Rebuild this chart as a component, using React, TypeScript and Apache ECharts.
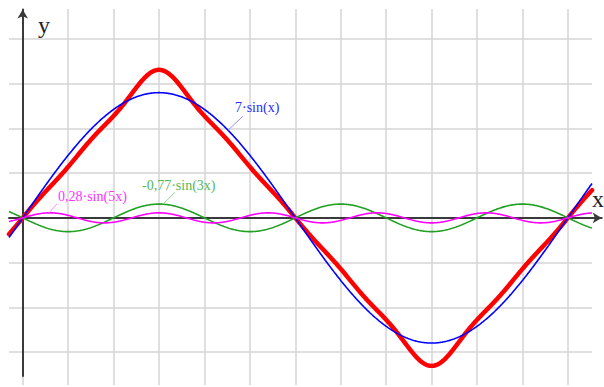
import React, { useEffect, useRef } from "react";
import * as echarts from "echarts";

// Fourier components of a triangle wave: odd harmonics with amplitudes 7/n², alternating sign.
const HARMONICS = [1, 3, 5, 7, 9];
const AMPLITUDES = [7, -0.77, 0.28, -0.14, 0.086];
// only the first three components are drawn separately; the partial sum uses all of them
const TERM_LABELS = ["7·sin(x)", "-0,77·sin(3x)", "0,28·sin(5x)"];
const TERM_COLORS = ["#0000ff", "#22a022", "#ff00ff"];
const TERM_TEXT_COLORS = ["#2b2bff", "#55b855", "#ff30ff"];
const TERM_LEADER_COLORS = ["#8f8fff", "#8fd08f", "#ff8fff"];
const SUM_COLOR = "#ff0000";

// x in radians, sampled across the plotted range
const X_MIN = -0.158;
const X_MAX = 6.561;
const SAMPLES = 700;

// where each component's label leader touches its curve (radians)
const LABEL_ANCHORS = [2.366, 1.617, 0.303];
// leader end and text position relative to the anchor, in pixels
const LEADER_OFFSETS = [[15, -14], [12, -12], [8, -9]];
const TEXT_OFFSETS = [[7, -23], [-21, -19], [9, -16]];

const Y_TICKS = { min: -7.5, max: 10, step: 2.5 };

const term = (k: number, x: number) => AMPLITUDES[k] * Math.sin(HARMONICS[k] * x);

const xs: number[] = [];
for (let i = 0; i <= SAMPLES; i++) xs.push(X_MIN + ((X_MAX - X_MIN) * i) / SAMPLES);

const termData = TERM_LABELS.map((_, k) => xs.map((x) => [x, term(k, x)]));
const sumData = xs.map((x) => [x, AMPLITUDES.reduce((s, _, k) => s + term(k, x), 0)]);

const SERIF = "'Liberation Serif', 'Times New Roman', serif";
const GRID_COLOR = "#d4d4d4";
const AXIS_COLOR = "#3a3a3a";

const hiddenAxis = {
  axisLine: { show: false },
  axisTick: { show: false },
  axisLabel: { show: false },
  splitLine: { show: false },
};

export default function App() {
  const ref = useRef<HTMLDivElement>(null);

  useEffect(() => {
    if (!ref.current) return;
    const chart = echarts.init(ref.current, undefined, { renderer: "svg" });

    chart.setOption({
      animation: false,
      backgroundColor: "#ffffff",
      grid: [
        // plotting area, horizontal grid lines
        { left: 9, right: 12, top: 39, bottom: 35 },
        // vertical grid lines every 30°
        { left: 22.7, right: 36.1, top: 9, bottom: 2 },
        // coordinate axes with arrows
        { left: 9, right: 2.3, top: 9.5, bottom: 11 },
      ],
      xAxis: [
        { type: "value", gridIndex: 0, min: X_MIN, max: X_MAX, ...hiddenAxis },
        {
          type: "value",
          gridIndex: 1,
          min: 0,
          max: 360,
          interval: 30,
          ...hiddenAxis,
          splitLine: { show: true, lineStyle: { color: GRID_COLOR, width: 1.5 } },
        },
        {
          type: "value",
          gridIndex: 2,
          min: X_MIN,
          max: 6.673,
          ...hiddenAxis,
          axisLine: {
            show: true,
            onZero: true,
            symbol: ["none", "arrow"],
            symbolSize: [8, 9],
            lineStyle: { color: AXIS_COLOR, width: 2 },
          },
        },
      ],
      yAxis: [
        {
          type: "value",
          gridIndex: 0,
          min: Y_TICKS.min,
          max: Y_TICKS.max,
          interval: Y_TICKS.step,
          ...hiddenAxis,
          splitLine: { show: true, lineStyle: { color: GRID_COLOR, width: 1.5 } },
        },
        { type: "value", gridIndex: 1, min: 0, max: 1, ...hiddenAxis },
        {
          type: "value",
          gridIndex: 2,
          min: -8.84,
          max: 11.65,
          ...hiddenAxis,
          axisLine: {
            show: true,
            onZero: true,
            symbol: ["none", "arrow"],
            symbolSize: [8, 9],
            lineStyle: { color: AXIS_COLOR, width: 2 },
          },
        },
      ],
      series: [
        {
          type: "line",
          name: "sum",
          xAxisIndex: 0,
          yAxisIndex: 0,
          data: sumData,
          showSymbol: false,
          clip: false,
          lineStyle: { color: SUM_COLOR, width: 4.5, cap: "round", join: "round" },
          z: 3,
        },
        ...TERM_LABELS.map((label, k) => ({
          type: "line",
          name: label,
          xAxisIndex: 0,
          yAxisIndex: 0,
          data: termData[k],
          showSymbol: false,
          clip: false,
          lineStyle: { color: TERM_COLORS[k], width: 1.6 },
          z: 4 + k,
        })),
      ],
    });

    // labels with leader lines, anchored on their curves
    const graphics: any[] = [];
    TERM_LABELS.forEach((label, k) => {
      const x = LABEL_ANCHORS[k];
      const p = chart.convertToPixel({ gridIndex: 0 }, [x, term(k, x)]) as number[];
      const [lx, ly] = LEADER_OFFSETS[k];
      const [tx, ty] = TEXT_OFFSETS[k];
      graphics.push({
        type: "line",
        shape: { x1: p[0], y1: p[1], x2: p[0] + lx, y2: p[1] + ly },
        style: { stroke: TERM_LEADER_COLORS[k], lineWidth: 1 },
        z: 10,
      });
      graphics.push({
        type: "text",
        x: p[0] + tx,
        y: p[1] + ty,
        style: {
          text: label,
          fill: TERM_TEXT_COLORS[k],
          font: `14px ${SERIF}`,
          textAlign: "left",
          textVerticalAlign: "middle",
        },
        z: 10,
      });
    });
    graphics.push({
      type: "text",
      x: 44,
      y: 25,
      style: { text: "y", fill: "#222", font: `24px ${SERIF}`, textAlign: "center", textVerticalAlign: "middle" },
      z: 10,
    });
    graphics.push({
      type: "text",
      x: 598,
      y: 199,
      style: { text: "x", fill: "#222", font: `24px ${SERIF}`, textAlign: "center", textVerticalAlign: "middle" },
      z: 10,
    });
    chart.setOption({ graphic: graphics });

    return () => chart.dispose();
  }, []);

  return (
    <div
      ref={ref}
      style={{ position: "fixed", left: 0, top: 0, width: 604, height: 387, background: "#fff" }}
    />
  );
}
